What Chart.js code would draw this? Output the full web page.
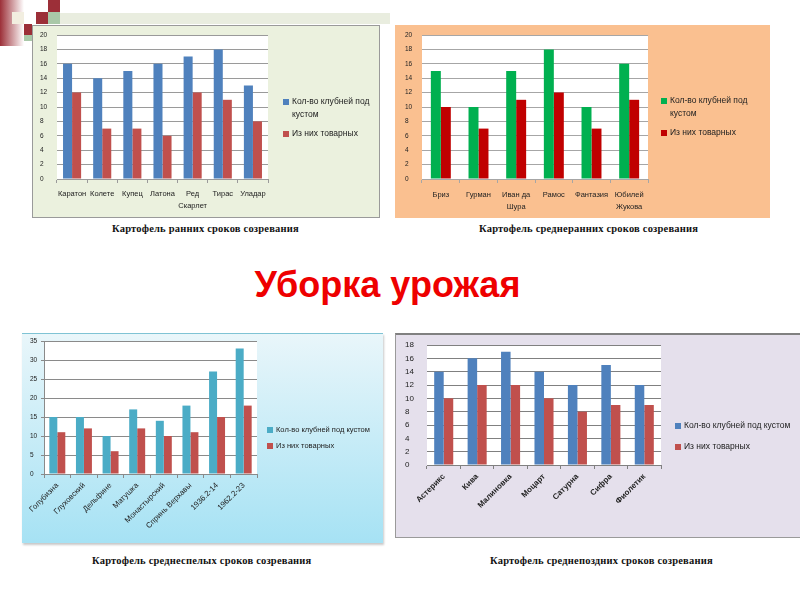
<!DOCTYPE html>
<html>
<head>
<meta charset="utf-8">
<script src="https://cdn.jsdelivr.net/npm/chart.js@4.4.1/dist/chart.umd.min.js"></script>
<style>
  body { margin: 0; background: #fff; font-family: "Liberation Sans", Arial, sans-serif; }
  #slide { position: relative; width: 800px; height: 600px; overflow: hidden; background: #fff; }
  .abs { position: absolute; }
  .panel { position: absolute; box-sizing: border-box; }
  .panel canvas { position: absolute; left: 0; top: 0; }
  .legend { position: absolute; color: #222; }
  .legend .item { position: relative; padding-left: 9px; }
  .legend .sw { position: absolute; left: 0; width: 6px; height: 6px; }
  .caption { position: absolute; font-family: "Liberation Serif", "Times New Roman", serif; font-weight: bold; font-size: 10.5px; letter-spacing: 0.2px; color: #111; white-space: nowrap; }
  #title { position: absolute; left: 0; width: 775px; top: 264px; text-align: center; font-weight: bold; font-size: 36px; color: #ee0000; }
</style>
</head>
<body>
<div id="slide">
  <!-- corner decoration -->
  <div class="abs" style="left:0;top:0;width:24px;height:46px;background:linear-gradient(to right,#9c2f38,#ffffff);"></div>
  <div class="abs" style="left:12px;top:12px;width:12px;height:12px;background:#f2eee0;"></div>
  <div class="abs" style="left:48px;top:0;width:12px;height:12px;background:#9c2f38;"></div>
  <div class="abs" style="left:36px;top:12px;width:12px;height:12px;background:#9c2f38;"></div>
  <div class="abs" style="left:48px;top:12px;width:12px;height:12px;background:#a9c8a8;"></div>
  <div class="abs" style="left:24px;top:24px;width:8px;height:11px;background:#9c2f38;"></div>
  <div class="abs" style="left:24px;top:35px;width:8px;height:6px;background:#a9c8a8;"></div>
  <div class="abs" style="left:60px;top:13px;width:330px;height:11px;background:#e9eddf;"></div>

  <div class="panel" id="p1" style="left:32px;top:25px;width:348px;height:193px;background:#ebf1de;border:1px solid #9a9a9a;"><canvas id="c1"></canvas></div>
  <div class="panel" id="p2" style="left:395px;top:25px;width:375px;height:193px;background:#fac090;"><canvas id="c2"></canvas></div>
  <div class="panel" id="p3" style="left:22px;top:333px;width:361px;height:210px;background:linear-gradient(to bottom,#e9f6fa,#a6e2f4);border-top:1px solid #7fc3d4;box-shadow:1px 2px 2px #c9c9c9;"><canvas id="c3"></canvas></div>
  <div class="panel" id="p4" style="left:395px;top:333px;width:405px;height:205px;background:#e5e0ec;border-top:2px solid #808080;border-left:1px solid #9a9a9a;border-bottom:1px solid #9a9a9a;"><canvas id="c4"></canvas></div>

  <div id="title">Уборка урожая</div>

  <div class="caption" style="left:112px;top:223px;">Картофель ранних сроков созревания</div>
  <div class="caption" style="left:479px;top:223px;">Картофель среднеранних сроков созревания</div>
  <div class="caption" style="left:92px;top:555px;">Картофель среднеспелых сроков созревания</div>
  <div class="caption" style="left:490px;top:555px;">Картофель среднепоздних сроков созревания</div>
</div>

<script>
// series names (legend)
const seriesNames = ["Кол-во клубней под кустом", "Из них товарных"];

// early varieties
const earlyLabels = ["Каратон", "Колете", "Купец", "Латона", ["Ред", "Скарлет"], "Тирас", "Уладар"];
const earlyTotal = [16, 14, 15, 16, 17, 18, 13];
const earlyMarket = [12, 7, 7, 6, 12, 11, 8];

// mid-early varieties
const midEarlyLabels = ["Бриз", "Гурман", ["Иван да", "Шура"], "Рамос", "Фантазия", ["Юбилей", "Жукова"]];
const midEarlyTotal = [15, 10, 15, 18, 10, 16];
const midEarlyMarket = [10, 7, 11, 12, 7, 11];

// mid-season varieties
const midLabels = ["Голубизна", "Глуховский", "Дельфине", "Матушка", "Монастырский", "Спринь Верхавы", "1936.2-14", "1962.2-23"];
const midTotal = [15, 15, 10, 17, 14, 18, 27, 33];
const midMarket = [11, 12, 6, 12, 10, 11, 15, 18];

// mid-late varieties
const midLateLabels = ["Астерикс", "Кива", "Малиновка", "Моцарт", "Сатурна", "Сифра", "Фиолетик"];
const midLateTotal = [14, 16, 17, 14, 12, 15, 12];
const midLateMarket = [10, 12, 12, 10, 8, 9, 9];

// white plot area
const plotBg = {
  id: "plotBg",
  beforeDraw(chart) {
    const a = chart.chartArea;
    const ctx = chart.ctx;
    ctx.save();
    ctx.fillStyle = "#ffffff";
    ctx.fillRect(a.left, a.top, a.right - a.left, a.bottom - a.top);
    ctx.restore();
  },
};

function makeChart(cfg) {
  const panel = document.getElementById(cfg.panel);
  const canvas = document.getElementById(cfg.canvas);
  const w = panel.clientWidth;
  const h = panel.clientHeight;
  canvas.width = w;
  canvas.height = h;
  canvas.style.width = w + "px";
  canvas.style.height = h + "px";

  new Chart(canvas.getContext("2d"), {
    type: "bar",
    data: {
      labels: cfg.labels,
      datasets: [
        { label: seriesNames[0], data: cfg.total, backgroundColor: cfg.colors[0], categoryPercentage: cfg.catPct, barPercentage: 1 },
        { label: seriesNames[1], data: cfg.market, backgroundColor: cfg.colors[1], categoryPercentage: cfg.catPct, barPercentage: 1 },
      ],
    },
    options: {
      responsive: false,
      animation: false,
      events: [],
      layout: { padding: { left: cfg.padLeft, right: cfg.padRight, top: cfg.padTop, bottom: 0 } },
      plugins: { legend: { display: false }, tooltip: { enabled: false } },
      scales: {
        x: {
          afterFit: (s) => { s.height = cfg.xHeight; },
          grid: { display: true, drawOnChartArea: false, offset: true, tickLength: 4, color: cfg.axisColor },
          border: { color: cfg.axisColor },
          ticks: {
            color: "#222",
            font: { family: "Liberation Sans", size: cfg.xFont, weight: cfg.xWeight || "normal", lineHeight: 1.55 },
            padding: cfg.xPad,
            maxRotation: cfg.rotate,
            minRotation: cfg.rotate,
            autoSkip: false,
          },
        },
        y: {
          min: 0,
          max: cfg.yMax,
          afterFit: (s) => { s.width = cfg.yWidth; },
          grid: { color: cfg.gridColor, drawTicks: cfg.yTicks, tickLength: 3 },
          border: { display: cfg.yBorder, color: cfg.axisColor },
          ticks: {
            stepSize: cfg.step,
            autoSkip: false,
            crossAlign: "far",
            color: "#222",
            font: { family: "Liberation Sans", size: cfg.yFont },
            padding: 2,
          },
        },
      },
    },
    plugins: [plotBg],
  });

  // legend next to the plot
  const lg = document.createElement("div");
  lg.className = "legend";
  lg.style.left = cfg.legend.x + "px";
  lg.style.top = cfg.legend.y + "px";
  lg.style.width = cfg.legend.w + "px";
  lg.style.fontSize = cfg.legend.font + "px";
  lg.style.lineHeight = cfg.legend.line + "px";
  seriesNames.forEach((name, i) => {
    const item = document.createElement("div");
    item.className = "item";
    item.style.marginBottom = cfg.legend.gap + "px";
    const sw = document.createElement("span");
    sw.className = "sw";
    sw.style.background = cfg.colors[i];
    sw.style.top = (cfg.legend.line - 6) / 2 + "px";
    item.appendChild(sw);
    item.appendChild(document.createTextNode(name));
    lg.appendChild(item);
  });
  panel.appendChild(lg);
}

makeChart({
  panel: "p1", canvas: "c1",
  labels: earlyLabels, total: earlyTotal, market: earlyMarket,
  colors: ["#4f81bd", "#c0504d"], catPct: 0.6,
  yMax: 20, step: 2, padLeft: 7, yWidth: 17, padRight: 111, padTop: 9, xHeight: 38,
  xFont: 7.5, yFont: 6.5, xPad: 5, rotate: 0,
  gridColor: "#9a9a9a", axisColor: "#9a9a9a", yBorder: false, yTicks: false,
  legend: { x: 250, y: 69, w: 92, font: 8.5, line: 13, gap: 6 },
});

makeChart({
  panel: "p2", canvas: "c2",
  labels: midEarlyLabels, total: midEarlyTotal, market: midEarlyMarket,
  colors: ["#00b050", "#c00000"], catPct: 0.53,
  yMax: 20, step: 2, padLeft: 10, yWidth: 17, padRight: 122, padTop: 10, xHeight: 39,
  xFont: 7.5, yFont: 6.5, xPad: 6, rotate: 0,
  gridColor: "#a6a6a6", axisColor: "#a6a6a6", yBorder: false, yTicks: false,
  legend: { x: 266, y: 69, w: 100, font: 8.5, line: 13, gap: 6 },
});

makeChart({
  panel: "p3", canvas: "c3",
  labels: midLabels, total: midTotal, market: midMarket,
  colors: ["#4bacc6", "#c0504d"], catPct: 0.6,
  yMax: 35, step: 5, padLeft: 8, yWidth: 14, padRight: 126, padTop: 7, xHeight: 69,
  xFont: 7.8, yFont: 6.5, xPad: 2, rotate: 45,
  gridColor: "#8a8a8a", axisColor: "#8a8a8a", yBorder: true, yTicks: true,
  legend: { x: 245, y: 90, w: 120, font: 7.5, line: 11, gap: 5 },
});

makeChart({
  panel: "p4", canvas: "c4",
  labels: midLateLabels, total: midLateTotal, market: midLateMarket,
  colors: ["#4f81bd", "#c0504d"], catPct: 0.57,
  yMax: 18, step: 2, padLeft: 9, yWidth: 22, padRight: 139, padTop: 10, xHeight: 72,
  xFont: 8, xWeight: "bold", yFont: 8, xPad: 2, rotate: 45,
  gridColor: "#808080", axisColor: "#808080", yBorder: false, yTicks: false,
  legend: { x: 279, y: 84, w: 125, font: 8.5, line: 13, gap: 8 },
});
</script>
</body>
</html>
